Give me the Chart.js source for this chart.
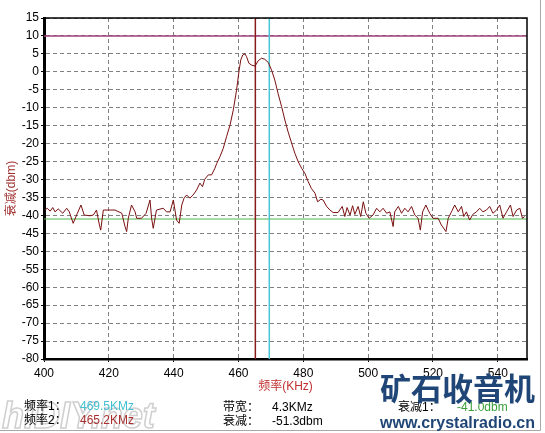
<!DOCTYPE html>
<html>
<head>
<meta charset="utf-8">
<title>频率响应</title>
<script src="https://cdn.jsdelivr.net/npm/chart.js@4/dist/chart.umd.min.js"></script>
<style>
  html, body { margin: 0; padding: 0; background: #fff; }
  canvas { display: block; }
</style>
</head>
<body>
<canvas id="chart" width="545" height="433"></canvas>
<script>
const freqs = [
  400.3, 401.0, 401.9, 402.7, 403.4, 404.4, 405.8, 407.0, 407.8, 409.0,
  410.3, 411.4, 412.4, 414.2, 415.2, 416.2, 417.1, 417.5, 418.3, 420.4,
  421.9, 424.0, 425.0, 425.5, 426.0, 427.0, 428.1, 428.6, 430.1, 431.5,
  432.7, 433.2, 433.7, 434.7, 436.8, 437.8, 438.9, 439.9, 440.9, 441.7,
  442.5, 443.2, 444.0, 445.0, 446.0, 447.1, 448.1, 448.9, 449.6, 450.7,
  451.7, 452.7, 453.3, 454.3, 455.3, 456.3, 457.4, 458.4, 459.4, 460.2,
  460.7, 461.3, 462.0, 462.5, 463.2, 464.0, 465.1, 466.1, 467.1, 468.1,
  469.2, 470.2, 471.2, 472.2, 473.3, 474.3, 475.3, 476.4, 477.4, 478.4,
  479.5, 480.5, 481.5, 482.5, 483.6, 484.4, 485.4, 486.1, 487.2, 488.2,
  489.2, 490.7, 492.0, 492.8, 493.5, 494.4, 495.2, 495.9, 496.9, 497.7,
  498.5, 499.3, 500.3, 501.5, 502.6, 503.6, 504.6, 505.7, 506.7, 507.7,
  508.2, 509.3, 510.3, 511.3, 512.3, 513.4, 514.4, 515.4, 516.1, 516.8,
  517.8, 518.5, 519.0, 520.0, 521.6, 522.6, 524.0, 524.7, 525.7, 526.7,
  527.8, 528.8, 529.5, 530.3, 531.3, 532.3, 533.4, 534.4, 535.4, 536.5,
  537.5, 538.5, 539.6, 540.6, 541.6, 542.7, 543.9, 544.7, 545.8, 546.8,
  547.6, 548.3
];
const atten = [
  -38.5, -38.0, -38.8, -37.8, -39.0, -38.2, -39.4, -38.0, -39.0, -42.2,
  -39.4, -37.1, -39.9, -40.1, -39.9, -38.5, -42.7, -44.1, -38.5, -38.5,
  -38.5, -39.4, -43.1, -44.5, -40.8, -37.1, -39.0, -40.8, -40.8, -39.4,
  -35.7, -40.8, -43.6, -38.5, -38.0, -39.0, -39.0, -35.7, -41.3, -42.2,
  -37.1, -35.2, -34.3, -35.2, -34.3, -32.9, -31.0, -32.0, -29.9, -28.7,
  -28.7, -26.9, -25.5, -23.6, -21.3, -18.1, -14.8, -10.6, -5.1, 0.5,
  3.3, 4.7, 5.0, 4.2, 2.4, 1.9, 1.6, 3.1, 3.8, 3.5,
  2.6, 0.5, -2.3, -6.0, -9.7, -13.4, -16.7, -19.9, -22.7, -25.0,
  -26.9, -28.3, -30.6, -32.5, -33.8, -36.2, -35.5, -35.7, -37.5, -38.5,
  -39.2, -39.2, -37.5, -40.3, -37.8, -39.9, -37.3, -39.7, -37.5, -40.3,
  -36.2, -39.4, -40.8, -39.9, -38.0, -39.0, -38.0, -39.4, -39.0, -43.1,
  -39.0, -37.5, -39.4, -38.0, -39.0, -37.5, -39.9, -40.8, -44.1, -39.0,
  -37.1, -38.5, -39.4, -40.8, -40.8, -42.7, -44.5, -40.8, -39.0, -37.1,
  -39.0, -37.5, -40.3, -39.0, -41.3, -39.7, -39.0, -38.0, -39.0, -38.5,
  -37.5, -39.4, -38.5, -37.1, -40.8, -39.0, -37.1, -40.3, -38.5, -38.0,
  -40.8, -40.3
];

// cursors
const freq1 = 469.5;   // 频率1
const freq2 = 465.2;   // 频率2
const refLevel = 10;
const level1 = -41.0;  // 衰减1

const xMin = 400, xMax = 549, xStep = 20;
const yMin = -80, yMax = 15, yStep = 5;

const points = freqs.map((f, i) => ({ x: f, y: atten[i] }));

const panel = {
  id: 'panel',
  beforeDraw(chart) {
    const ctx = chart.ctx;
    ctx.save();
    ctx.fillStyle = '#fff';
    ctx.fillRect(0, 0, chart.width, chart.height);
    ctx.restore();
  },
  afterDraw(chart) {
    const { ctx, chartArea: a } = chart;
    ctx.save();
    // thin top / right frame
    ctx.strokeStyle = '#000';
    ctx.lineWidth = 1.5;
    ctx.beginPath();
    ctx.moveTo(a.left, a.top);
    ctx.lineTo(a.right, a.top);
    ctx.lineTo(a.right, a.bottom);
    ctx.stroke();

    // window frame
    ctx.strokeStyle = '#a8a8a8';
    ctx.lineWidth = 1;
    ctx.beginPath();
    ctx.moveTo(540.5, 0);
    ctx.lineTo(540.5, 430.5);
    ctx.lineTo(0, 430.5);
    ctx.stroke();

    // watermark hiDIY
    ctx.font = 'bold italic 36px "Liberation Sans"';
    ctx.strokeStyle = '#cfcfcf';
    ctx.lineWidth = 1.5;
    ctx.strokeText('hiDIY.net', 2, 428);

    const cjk = '"Liberation Sans", "Noto Sans CJK SC"';
    ctx.font = '12px ' + cjk;
    ctx.textBaseline = 'middle';
    ctx.fillStyle = '#000';
    ctx.fillText('频率1：', 24, 407);
    ctx.fillText('频率2：', 24, 421);
    ctx.fillText('带宽：', 223, 408);
    ctx.fillText('衰减：', 223, 422);
    ctx.fillText('衰减1：', 398, 408);
    ctx.fillText(freq2 === freq2 ? '4.3KMz' : '', 272, 408);
    ctx.fillText('-51.3dbm', 272, 422);
    ctx.fillStyle = '#40c0d0';
    ctx.fillText(freq1.toFixed(1) + 'KMz', 80, 407);
    ctx.fillStyle = '#a83030';
    ctx.fillText(freq2.toFixed(1) + 'KMz', 80, 421);
    ctx.fillStyle = '#3aa03a';
    ctx.fillText(level1.toFixed(1) + 'dbm', 457, 408);

    // crystalradio watermark
    ctx.fillStyle = '#1f4676';
    ctx.font = 'bold 31px "Noto Sans CJK SC"';
    ctx.textBaseline = 'alphabetic';
    ctx.fillText('矿石收音机', 380, 400);
    ctx.font = 'bold 16px "Liberation Sans"';
    ctx.fillText('www.crystalradio.cn', 380, 428);
    ctx.restore();
  }
};

new Chart(document.getElementById('chart'), {
  type: 'line',
  data: {
    datasets: [
      {
        label: '衰减',
        data: points,
        borderColor: '#7a1010',
        borderWidth: 1,
        pointRadius: 0,
        tension: 0,
        order: 0
      },
      {
        label: '参考',
        data: [{ x: xMin, y: refLevel }, { x: xMax, y: refLevel }],
        borderColor: '#a0407c',
        borderWidth: 1.5,
        pointRadius: 0,
        order: 2
      },
      {
        label: '衰减1',
        data: [{ x: xMin, y: level1 }, { x: xMax, y: level1 }],
        borderColor: '#48b848',
        borderWidth: 1,
        pointRadius: 0,
        order: 2
      },
      {
        label: '频率1',
        data: [{ x: freq1, y: yMin }, { x: freq1, y: yMax }],
        borderColor: '#48c4d4',
        borderWidth: 1.5,
        pointRadius: 0,
        order: 1
      },
      {
        label: '频率2',
        data: [{ x: freq2, y: yMin }, { x: freq2, y: yMax }],
        borderColor: '#8a1a1a',
        borderWidth: 1.5,
        pointRadius: 0,
        order: 1
      }
    ]
  },
  options: {
    responsive: false,
    animation: false,
    events: [],
    layout: { padding: { top: 18, right: 18, left: 0, bottom: 0 } },
    plugins: {
      legend: { display: false },
      tooltip: { enabled: false }
    },
    scales: {
      x: {
        type: 'linear',
        min: xMin,
        max: xMax,
        afterFit(scale) { scale.height = 74; },
        ticks: {
          stepSize: xStep,
          includeBounds: false,
          autoSkip: false,
          maxRotation: 0,
          color: '#000',
          padding: 4,
          font: { family: 'Liberation Sans', size: 12 }
        },
        grid: {
          color: '#808080',
          lineWidth: 1,
          drawTicks: true,
          tickLength: 3,
          tickColor: '#000'
        },
        border: { color: '#000', width: 2.5, dash: [4, 3] },
        title: {
          display: true,
          text: '频率(KHz)',
          color: '#c03030',
          padding: { top: 0, bottom: 39 },
          font: { family: '"Liberation Sans", "Noto Sans CJK SC"', size: 12 }
        }
      },
      y: {
        min: yMin,
        max: yMax,
        afterFit(scale) { scale.width = 44; },
        ticks: {
          stepSize: yStep,
          autoSkip: false,
          color: '#000',
          padding: 2,
          font: { family: 'Liberation Sans', size: 12 }
        },
        grid: {
          color: '#808080',
          lineWidth: 1,
          drawTicks: true,
          tickLength: 3,
          tickColor: '#000'
        },
        border: { color: '#000', width: 3, dash: [4, 3] },
        title: {
          display: true,
          text: '衰减(dbm)',
          color: '#a03030',
          padding: { top: 4, bottom: 0 },
          font: { family: '"Liberation Sans", "Noto Sans CJK SC"', size: 12 }
        }
      }
    }
  },
  plugins: [panel]
});
</script>
</body>
</html>
